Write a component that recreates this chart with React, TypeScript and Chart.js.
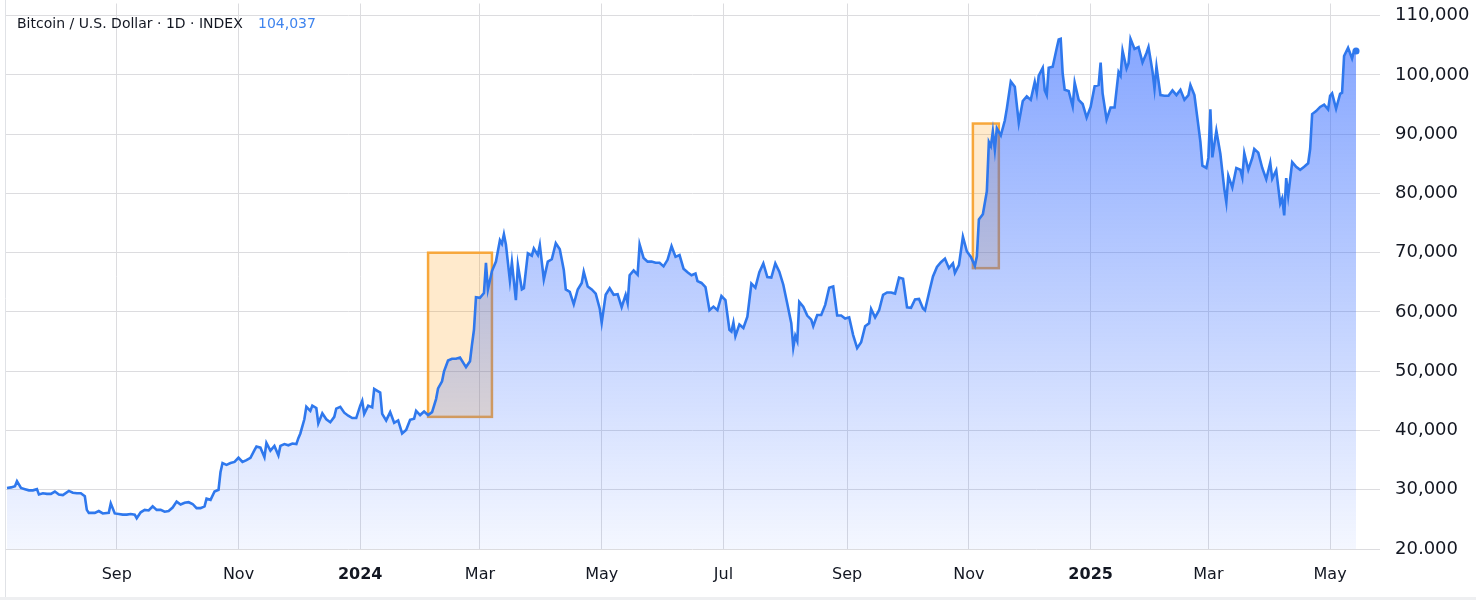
import React, { useEffect, useRef } from "react";
import { Chart, registerables } from "chart.js";

Chart.register(...registerables);

const TITLE = "Bitcoin / U.S. Dollar · 1D · INDEX";
const LAST_VALUE_LABEL = "104,037";

const dates: string[] = [
  "2023-07-08","2023-07-10","2023-07-12","2023-07-13","2023-07-15","2023-07-17","2023-07-19","2023-07-21","2023-07-23","2023-07-24","2023-07-26","2023-07-28","2023-07-30",
  "2023-08-01","2023-08-03","2023-08-05","2023-08-08","2023-08-10","2023-08-12","2023-08-14","2023-08-16","2023-08-17","2023-08-18","2023-08-21","2023-08-23","2023-08-25","2023-08-28","2023-08-29","2023-08-31",
  "2023-09-02","2023-09-04","2023-09-06","2023-09-08","2023-09-10","2023-09-11","2023-09-13","2023-09-15","2023-09-17","2023-09-19","2023-09-21","2023-09-23","2023-09-25","2023-09-27","2023-09-29",
  "2023-10-01","2023-10-03","2023-10-05","2023-10-07","2023-10-09","2023-10-11","2023-10-13","2023-10-15","2023-10-16","2023-10-18","2023-10-20","2023-10-22","2023-10-23","2023-10-24","2023-10-26","2023-10-28","2023-10-30",
  "2023-11-01","2023-11-03","2023-11-05","2023-11-07","2023-11-09","2023-11-10","2023-11-12","2023-11-14","2023-11-15","2023-11-17","2023-11-19","2023-11-21","2023-11-22","2023-11-24","2023-11-26","2023-11-28","2023-11-30",
  "2023-12-01","2023-12-02","2023-12-04","2023-12-05","2023-12-07","2023-12-08","2023-12-10","2023-12-11","2023-12-13","2023-12-15","2023-12-17","2023-12-19","2023-12-20","2023-12-22","2023-12-24","2023-12-26","2023-12-28","2023-12-30",
  "2024-01-01","2024-01-02","2024-01-03","2024-01-05","2024-01-07","2024-01-08","2024-01-10","2024-01-11","2024-01-12","2024-01-14","2024-01-16","2024-01-18","2024-01-20","2024-01-22","2024-01-24","2024-01-26","2024-01-28","2024-01-29","2024-01-31",
  "2024-02-02","2024-02-04","2024-02-06","2024-02-08","2024-02-09","2024-02-11","2024-02-12","2024-02-14","2024-02-16","2024-02-18","2024-02-20","2024-02-23","2024-02-25","2024-02-26","2024-02-27","2024-02-28",
  "2024-03-01","2024-03-03","2024-03-04","2024-03-05","2024-03-07","2024-03-09","2024-03-11","2024-03-12","2024-03-13","2024-03-14","2024-03-16","2024-03-17","2024-03-19","2024-03-20","2024-03-22","2024-03-23","2024-03-25","2024-03-27","2024-03-28","2024-03-30","2024-03-31",
  "2024-04-02","2024-04-04","2024-04-06","2024-04-08","2024-04-10","2024-04-12","2024-04-13","2024-04-15","2024-04-17","2024-04-19","2024-04-21","2024-04-22","2024-04-24","2024-04-26","2024-04-28","2024-04-30",
  "2024-05-01","2024-05-03","2024-05-05","2024-05-07","2024-05-09","2024-05-11","2024-05-13","2024-05-14","2024-05-15","2024-05-17","2024-05-19","2024-05-20","2024-05-22","2024-05-24","2024-05-26","2024-05-28","2024-05-30",
  "2024-06-01","2024-06-03","2024-06-05","2024-06-07","2024-06-09","2024-06-11","2024-06-13","2024-06-15","2024-06-17","2024-06-18","2024-06-20","2024-06-22","2024-06-24","2024-06-26","2024-06-28","2024-06-30",
  "2024-07-02","2024-07-04","2024-07-05","2024-07-06","2024-07-07","2024-07-09","2024-07-11","2024-07-13","2024-07-15","2024-07-17","2024-07-19","2024-07-21","2024-07-23","2024-07-25","2024-07-27","2024-07-29","2024-07-31",
  "2024-08-02","2024-08-04","2024-08-05","2024-08-06","2024-08-07","2024-08-08","2024-08-10","2024-08-12","2024-08-14","2024-08-15","2024-08-17","2024-08-19","2024-08-21","2024-08-23","2024-08-25","2024-08-27","2024-08-29","2024-08-31",
  "2024-09-02","2024-09-04","2024-09-06","2024-09-08","2024-09-10","2024-09-12","2024-09-13","2024-09-15","2024-09-17","2024-09-19","2024-09-21","2024-09-23","2024-09-25","2024-09-27","2024-09-29",
  "2024-10-01","2024-10-03","2024-10-05","2024-10-07","2024-10-09","2024-10-10","2024-10-12","2024-10-14","2024-10-16","2024-10-18","2024-10-20","2024-10-22","2024-10-24","2024-10-25","2024-10-27","2024-10-29","2024-10-31",
  "2024-11-02","2024-11-04","2024-11-05","2024-11-06","2024-11-08","2024-11-10","2024-11-11","2024-11-12","2024-11-13","2024-11-14","2024-11-15","2024-11-17","2024-11-19","2024-11-20","2024-11-22","2024-11-24","2024-11-26","2024-11-28","2024-11-30",
  "2024-12-02","2024-12-04","2024-12-05","2024-12-06","2024-12-08","2024-12-09","2024-12-10","2024-12-11","2024-12-13","2024-12-15","2024-12-16","2024-12-17","2024-12-18","2024-12-19","2024-12-21","2024-12-23","2024-12-24","2024-12-26","2024-12-28","2024-12-30",
  "2025-01-01","2025-01-03","2025-01-05","2025-01-06","2025-01-07","2025-01-09","2025-01-11","2025-01-13","2025-01-15","2025-01-16","2025-01-17","2025-01-19","2025-01-20","2025-01-21","2025-01-23","2025-01-25","2025-01-27","2025-01-29","2025-01-30",
  "2025-02-01","2025-02-02","2025-02-03","2025-02-05","2025-02-07","2025-02-09","2025-02-11","2025-02-13","2025-02-15","2025-02-17","2025-02-19","2025-02-20","2025-02-22","2025-02-24","2025-02-25","2025-02-26","2025-02-28",
  "2025-03-01","2025-03-02","2025-03-03","2025-03-05","2025-03-07","2025-03-09","2025-03-10","2025-03-11","2025-03-13","2025-03-15","2025-03-17","2025-03-18","2025-03-19","2025-03-21","2025-03-23","2025-03-24","2025-03-26","2025-03-28","2025-03-30",
  "2025-04-01","2025-04-02","2025-04-04","2025-04-06","2025-04-07","2025-04-08","2025-04-09","2025-04-10","2025-04-12","2025-04-14","2025-04-16","2025-04-18","2025-04-20","2025-04-21","2025-04-22","2025-04-24","2025-04-26","2025-04-28","2025-04-30",
  "2025-05-01","2025-05-02","2025-05-04","2025-05-06","2025-05-07","2025-05-08","2025-05-10","2025-05-12","2025-05-13","2025-05-14",
];

const prices: number[] = [
  30300,30400,30600,31450,30300,30100,29900,29900,30100,29200,29400,29300,29300,
  29700,29200,29100,29800,29500,29400,29400,28900,26600,26100,26100,26400,26000,26100,27700,26000,
  25900,25800,25800,25900,25800,25200,26200,26600,26500,27200,26600,26600,26300,26400,27000,
  28000,27500,27800,27900,27600,26900,26900,27200,28500,28300,29700,30000,33000,34500,34200,34500,34700,
  35400,34700,35000,35400,36700,37300,37100,35500,37900,36600,37400,35800,37400,37700,37500,37800,37700,
  38700,39500,41900,44000,43300,44200,43800,41200,42900,41900,41400,42300,43700,44000,43000,42500,42100,42100,
  44200,45000,42800,44200,43900,47000,46600,46400,42800,41700,43100,41300,41700,39500,40100,41800,42000,43300,42600,
  43200,42600,43100,45300,47100,48300,50000,51800,52100,52100,52300,50700,51700,54500,57000,62500,
  62400,63200,68300,63800,66900,68500,72100,71500,73100,71400,65300,68400,62000,67900,63800,64000,69900,69500,70700,69600,71300,
  65500,68500,68900,71600,70600,67100,63800,63400,61300,63800,64900,66800,64300,63800,63100,60600,
  58200,62900,64000,62900,63000,60800,62900,61500,66200,67000,66300,71400,69100,68500,68500,68300,68300,
  67700,68800,71100,69300,69600,67300,66700,66200,66500,65200,64900,64200,60300,60900,60300,62700,
  62000,57000,56700,58200,55900,57900,57300,59200,64800,64100,66700,68200,65900,65800,68200,66800,64600,
  61400,58100,54000,56000,55100,61700,60900,59400,58700,57600,59500,59500,61200,64100,64300,59400,59400,58900,
  59100,56100,53900,54900,57600,58100,60500,59100,60300,62900,63300,63300,63100,65800,65600,
  60800,60700,62100,62200,60600,60300,63200,66000,67600,68400,69000,67400,68200,66600,67900,72700,70200,
  69300,67800,69400,75600,76500,80400,88700,88000,90500,87400,91000,89800,92300,94300,98900,98000,91900,95600,96400,
  95800,98800,97000,99900,101200,97400,96600,101200,101400,104500,106000,106100,100200,97500,97300,94700,98700,95800,95100,92800,
  94600,98100,98300,102100,96900,92500,94500,94500,100500,99900,104100,101100,102000,106100,104400,104700,102100,103700,104700,
  100600,97700,101400,96600,96500,96500,97400,96600,97500,95800,96600,98300,96600,91400,88700,84700,84300,
  86000,94200,86100,90600,86700,80700,78500,83000,81000,84300,84000,82700,86800,84000,86000,87500,86900,84300,82400,
  85200,82500,83900,78300,79200,76300,82600,79600,85300,84500,84000,84500,85100,87500,93400,93900,94600,95000,94200,
  96500,96900,94300,96800,97000,103200,104600,102800,104100,104037,
];

const xTickDates = ["2023-09-01","2023-11-01","2024-01-01","2024-03-01","2024-05-01","2024-07-01","2024-09-01","2024-11-01","2025-01-01","2025-03-01","2025-05-01"];
const xTickLabels = ["Sep","Nov","2024","Mar","May","Jul","Sep","Nov","2025","Mar","May"];
const xStartDate = "2023-07-07";
const xEndDate = "2025-05-26";

const yTicks = [20000,30000,40000,50000,60000,70000,80000,90000,100000,110000];
const yMin = 20000;
const yMax = 112060;

// highlighted rectangles (date range and price range)
const boxStarts = ["2024-02-04","2024-11-03"];
const boxEnds = ["2024-03-07","2024-11-16"];
const boxLows = [42300, 67400];
const boxHighs = [70000, 91800];

const FONT = '"DejaVu Sans", sans-serif';
const TEXT_COLOR = "#131722";
const GRID_COLOR = "#dcdcdf";
const LINE_COLOR = "#2f78ed";

const DAY_MS = 86400000;
const ORIGIN = Date.parse("2024-01-01T00:00:00Z");
const day = (s: string) => (Date.parse(s + "T00:00:00Z") - ORIGIN) / DAY_MS;

export default function App() {
  const canvasRef = useRef<HTMLCanvasElement | null>(null);

  useEffect(() => {
    if (!canvasRef.current) return;
    const points = dates.map((d, i) => ({ x: day(d), y: prices[i] }));
    const lastIndex = points.length - 1;

    const boxPlugin = {
      id: "boxes",
      beforeDatasetsDraw(chart: any) {
        const { ctx, chartArea, scales } = chart;
        ctx.save();
        ctx.beginPath();
        ctx.rect(chartArea.left, chartArea.top, chartArea.right - chartArea.left, chartArea.bottom - chartArea.top);
        ctx.clip();
        boxStarts.forEach((s, i) => {
          const x1 = scales.x.getPixelForValue(day(s));
          const x2 = scales.x.getPixelForValue(day(boxEnds[i]));
          const y1 = scales.y.getPixelForValue(boxHighs[i]);
          const y2 = scales.y.getPixelForValue(boxLows[i]);
          ctx.fillStyle = "rgba(255,152,0,0.2)";
          ctx.fillRect(x1, y1, x2 - x1, y2 - y1);
          ctx.strokeStyle = "#f7a73b";
          ctx.lineWidth = 2.5;
          ctx.strokeRect(x1, y1, x2 - x1, y2 - y1);
        });
        ctx.restore();
      },
    };

    const decorPlugin = {
      id: "decor",
      afterDraw(chart: any) {
        const { ctx, chartArea, width } = chart;
        ctx.save();
        // price scale is cut by the time scale pane
        ctx.fillStyle = "#ffffff";
        ctx.fillRect(chartArea.right + 1, 554, width - chartArea.right, 43);
        ctx.fillStyle = "#eeeff1";
        ctx.fillRect(0, 597, width, 3);
        ctx.strokeStyle = "#e0e2e6";
        ctx.lineWidth = 1;
        ctx.beginPath();
        ctx.moveTo(chartArea.left + 0.5, 0);
        ctx.lineTo(chartArea.left + 0.5, 597);
        ctx.stroke();
        ctx.font = `14px ${FONT}`;
        ctx.textAlign = "left";
        ctx.textBaseline = "alphabetic";
        ctx.fillStyle = TEXT_COLOR;
        ctx.fillText(TITLE, 17, 27.5);
        ctx.fillStyle = "#3f84ee";
        ctx.fillText(LAST_VALUE_LABEL, 258, 27.5);
        ctx.restore();
      },
    };

    const chart = new Chart(canvasRef.current, {
      type: "line",
      data: {
        datasets: [
          {
            data: points,
            borderColor: LINE_COLOR,
            borderWidth: 2.6,
            tension: 0,
            fill: "start",
            backgroundColor: (c: any) => {
              const { chart: ch } = c;
              const area = ch.chartArea;
              if (!area) return "rgba(41,98,255,0.3)";
              const g = ch.ctx.createLinearGradient(0, area.top, 0, area.bottom);
              g.addColorStop(0, "rgba(41,98,255,0.6)");
              g.addColorStop(1, "rgba(41,98,255,0.05)");
              return g;
            },
            pointRadius: (c: any) => (c.dataIndex === lastIndex ? 3.5 : 0),
            pointBackgroundColor: LINE_COLOR,
            pointBorderWidth: 0,
            pointHoverRadius: 0,
          },
        ],
      },
      options: {
        animation: false,
        responsive: false,
        layout: { padding: { left: 5, right: 0, top: 0, bottom: 0 } },
        plugins: { legend: { display: false }, tooltip: { enabled: false } },
        events: [],
        scales: {
          x: {
            type: "linear",
            min: day(xStartDate),
            max: day(xEndDate),
            afterBuildTicks: (s: any) => {
              s.ticks = xTickDates.map((d) => ({ value: day(d) }));
            },
            afterFit: (s: any) => {
              s.height = 51;
              s.paddingLeft = 0;
              s.paddingRight = 0;
              s.paddingTop = 0;
              s.paddingBottom = 0;
            },
            grid: { color: GRID_COLOR, drawTicks: false },
            border: { display: false },
            ticks: {
              autoSkip: false,
              maxRotation: 0,
              padding: 16,
              color: TEXT_COLOR,
              font: (c: any) => ({
                family: FONT,
                size: 16,
                weight: /^\d{4}$/.test(xTickLabels[c.index] || "") ? "bold" : "normal",
              }),
              callback: (_v: any, i: number) => xTickLabels[i],
            },
          },
          y: {
            position: "right",
            min: yMin,
            max: yMax,
            afterBuildTicks: (s: any) => {
              s.ticks = yTicks.map((v) => ({ value: v }));
            },
            afterFit: (s: any) => {
              s.width = 96;
              s.paddingTop = 0;
              s.paddingBottom = 0;
              s.paddingLeft = 0;
              s.paddingRight = 0;
            },
            grid: { color: GRID_COLOR, drawTicks: false },
            border: { display: false },
            ticks: {
              padding: 15,
              color: TEXT_COLOR,
              font: { family: FONT, size: 18 },
              callback: (v: any) => Number(v).toLocaleString("en-US"),
            },
          },
        },
      },
      plugins: [boxPlugin, decorPlugin],
    } as any);

    return () => chart.destroy();
  }, []);

  return (
    <div style={{ position: "fixed", left: 0, top: 0, width: 1476, height: 600, background: "#ffffff" }}>
      <canvas ref={canvasRef} width={1476} height={600} style={{ width: 1476, height: 600, display: "block" }} />
    </div>
  );
}
